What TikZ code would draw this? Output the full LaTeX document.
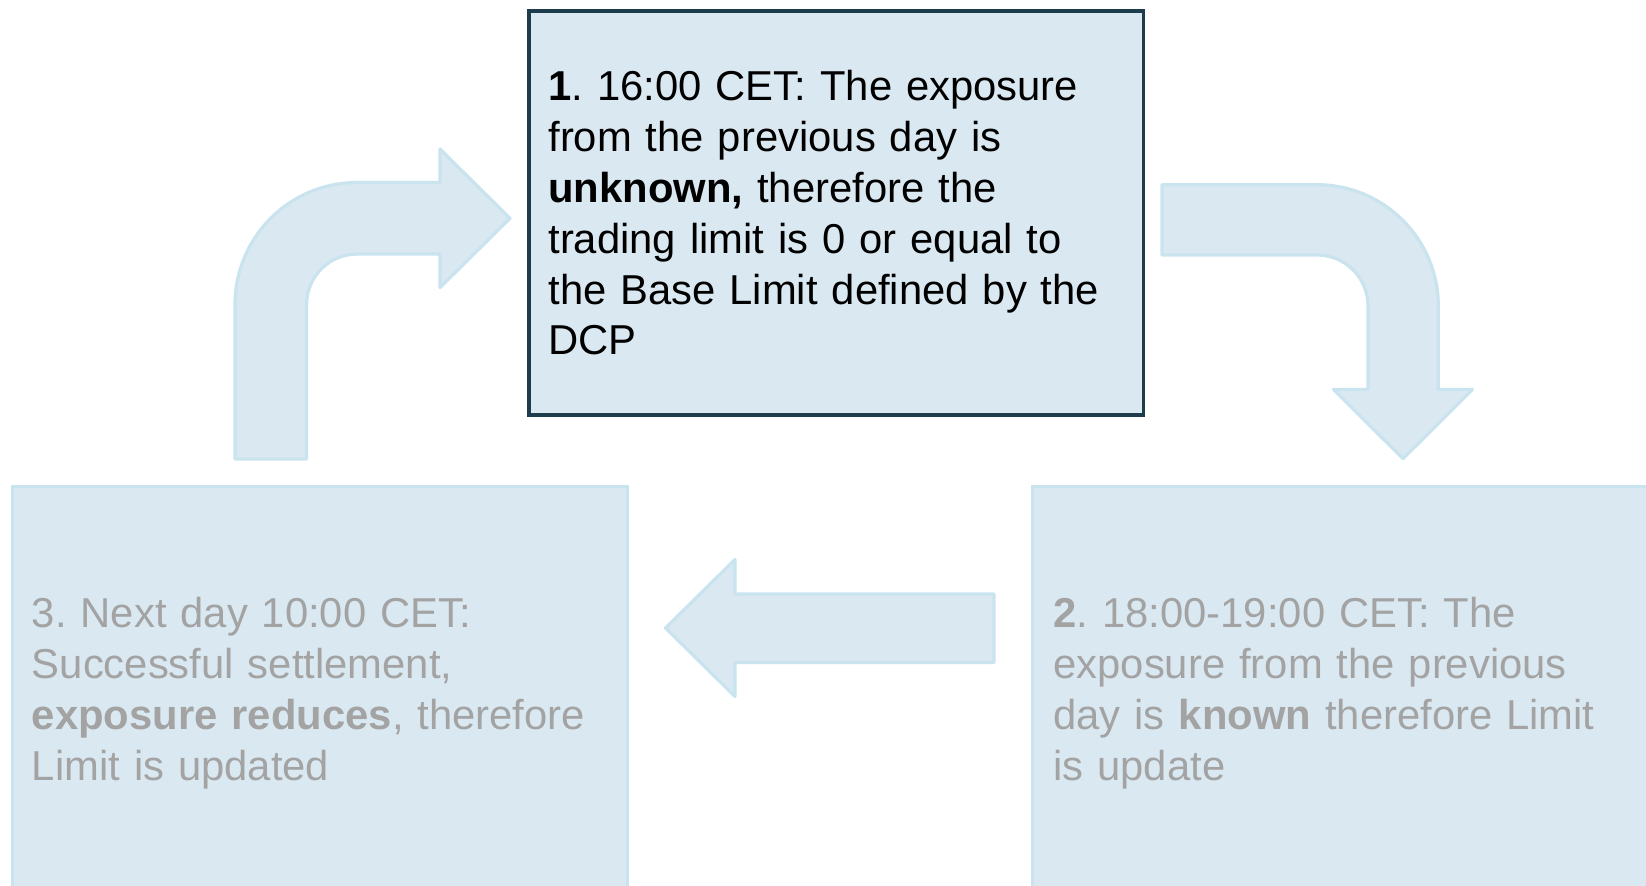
\documentclass[tikz,border=0pt]{standalone}
\usepackage{fontspec}
\setmainfont{Liberation Sans}
\frenchspacing
\definecolor{boxfill}{HTML}{DAE9F1}
\definecolor{lightedge}{HTML}{C9E3EF}
\definecolor{darkedge}{HTML}{1E3D4C}
\definecolor{greytext}{HTML}{A3A3A3}
\tikzset{
  bodytext/.style={font=\fontsize{20.9}{25.4}\selectfont, inner sep=0pt, anchor=base west, text width=340pt, align=left},
  activebox/.style={draw=darkedge, line width=1.8pt, fill=boxfill, inner sep=0pt, anchor=north west},
  fadedbox/.style={draw=lightedge, line width=1.6pt, fill=boxfill, inner sep=0pt, anchor=north west},
  flowarrow/.style={draw=lightedge, line width=1.6pt, fill=boxfill, line join=round},
}
\begin{document}
\begin{tikzpicture}[x=0.5pt,y=-0.5pt]
\useasboundingbox (0,0) rectangle (1646,886);
\clip (0,0) rectangle (1646,886);
% boxes
\node[activebox, minimum width=307.4pt, minimum height=201.8pt] (box1) at (527,9.5) {};
\node[fadedbox, minimum width=307.65pt, minimum height=210pt] (box3) at (10.5,485) {};
\node[fadedbox, minimum width=320pt, minimum height=210pt] (box2) at (1031,485) {};
% texts
\node[bodytext, text=black] (t1) at (548,101) {\textbf{1}. 16:00 CET: The exposure\\ from the previous day is\\ \textbf{unknown,} therefore the\\ trading limit is 0 or equal to\\ the Base Limit defined by the\\ DCP};
\node[bodytext, text=greytext] (t3) at (31.5,627.7) {3. Next day 10:00 CET:\\ Successful settlement,\\ \textbf{exposure reduces}, therefore\\ Limit is updated};
\node[bodytext, text=greytext] (t2) at (1053,627.7) {\textbf{2}. 18:00-19:00 CET: The\\ exposure from the previous\\ day is \textbf{known} therefore Limit\\ is update};
% arrow 3 -> 1 (bent up-right)
\draw[flowarrow] (235,459) -- (235,304.5)
  .. controls (235,237.1) and (289.6,182.5) .. (357,182.5)
  -- (440,182.5) -- (440,149) -- (510,218.3) -- (440,287.6) -- (440,254.1)
  -- (357,254.1) .. controls (329.2,254.1) and (306.6,276.7) .. (306.6,304.5)
  -- (306.6,459) -- cycle;
% arrow 1 -> 2 (bent right-down)
\draw[flowarrow] (1162,184.7) -- (1317,184.7)
  .. controls (1384,184.7) and (1438.3,239) .. (1438.3,306)
  -- (1438.3,389.4) -- (1472.5,389.4) -- (1403,458.7) -- (1333.5,389.4) -- (1368,389.4)
  -- (1368,306) .. controls (1368,277.8) and (1345.2,255) .. (1317,255)
  -- (1162,255) -- cycle;
% arrow 2 -> 3 (left)
\draw[flowarrow] (994,594) -- (735,594) -- (735,559.5) -- (665.5,628) -- (735,696.5)
  -- (735,662.5) -- (994,662.5) -- cycle;
\end{tikzpicture}
\end{document}
